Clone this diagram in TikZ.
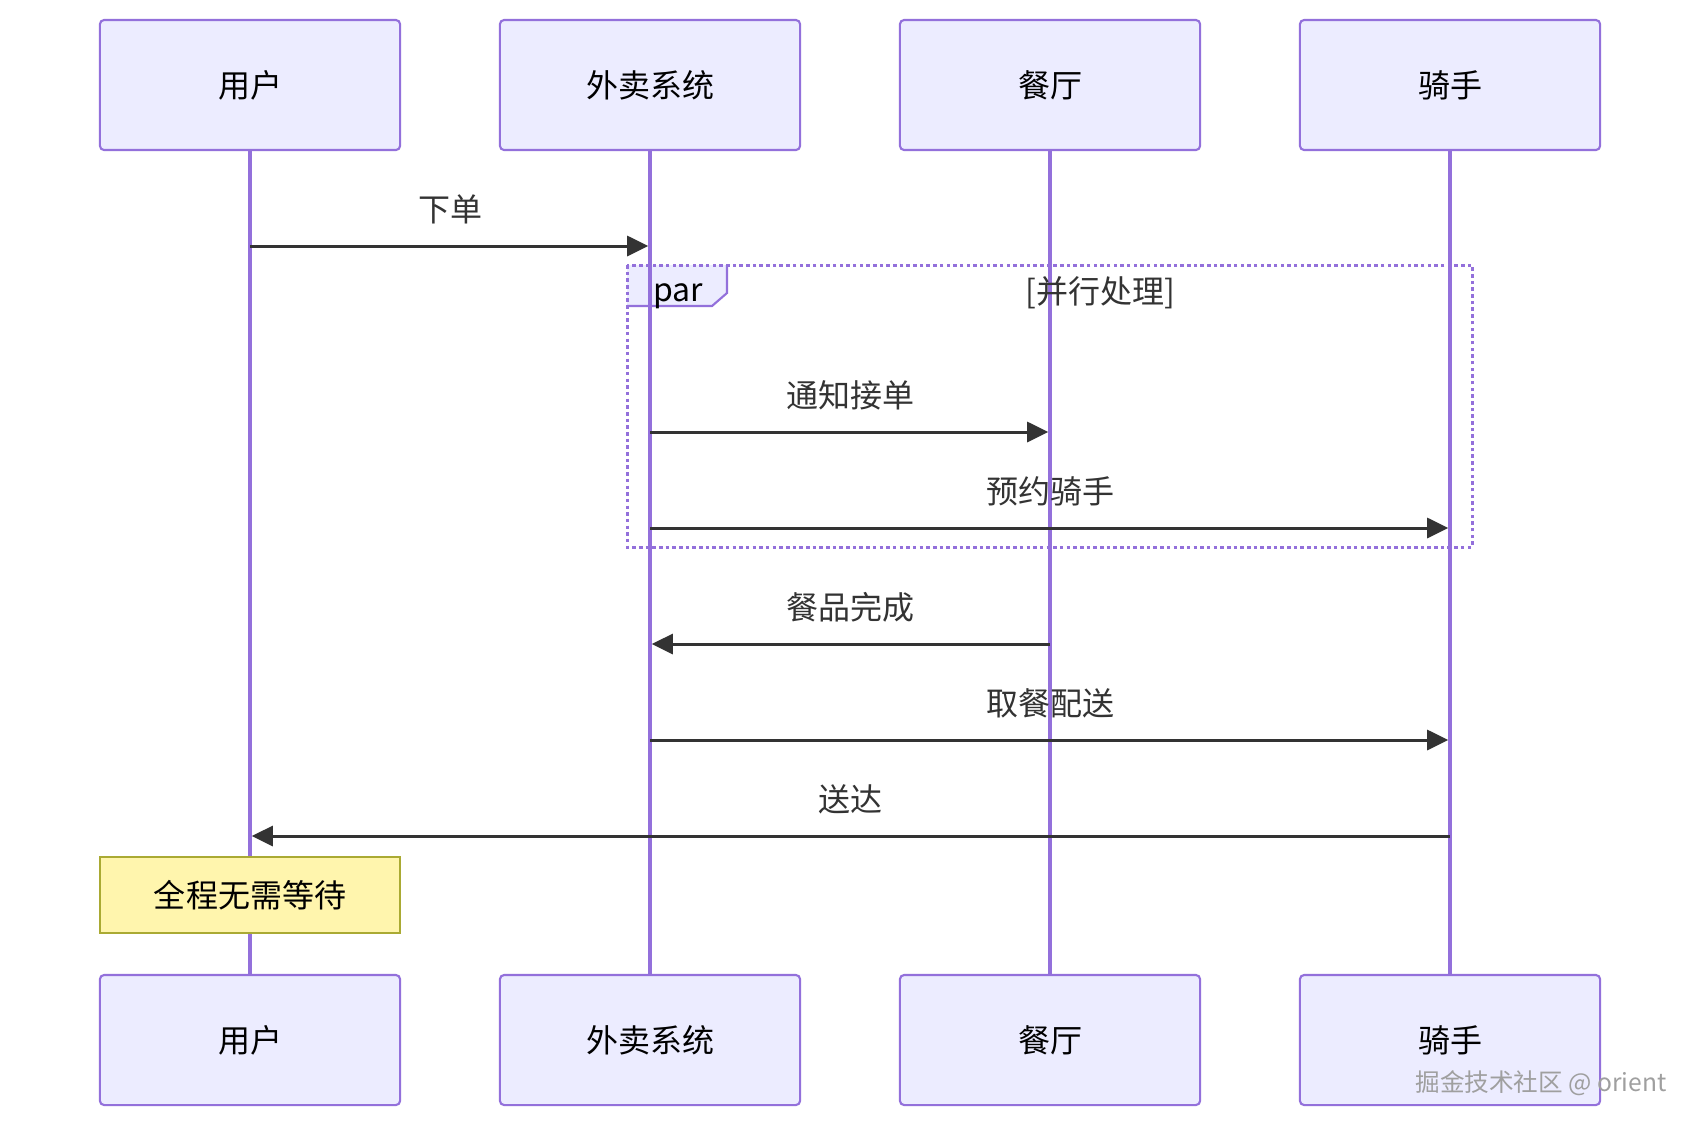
\documentclass[tikz,border=0pt]{standalone}
\usepackage{fontspec}
\setmainfont{Noto Sans CJK SC}
\usetikzlibrary{arrows.meta}
\definecolor{actorfill}{HTML}{ECECFF}
\definecolor{actorline}{HTML}{9370DB}
\definecolor{msgline}{HTML}{333333}
\definecolor{notefill}{HTML}{FFF5AD}
\definecolor{noteline}{HTML}{AAAA33}
\tikzset{
	actor/.style={draw=actorline,fill=actorfill,line width=0.6pt,rounded corners=1.2pt,minimum width=3cm,minimum height=1.3cm,inner sep=0pt,font=\fontsize{9.1}{11}\selectfont},
	lifeline/.style={actorline,line width=1.1pt},
	msg/.style={msgline,line width=0.85pt,shorten >=0.5pt,-{Triangle[length=6pt,width=5.7pt]}},
	msglabel/.style={text=msgline,font=\fontsize{9.1}{11}\selectfont,inner sep=0pt},
	notebox/.style={draw=noteline,fill=notefill,line width=0.6pt,minimum width=3cm,minimum height=0.76cm,inner sep=0pt,font=\fontsize{9.1}{11}\selectfont}
}
\begin{document}
\begin{tikzpicture}[x=0.01cm,y=-0.01cm]
	\useasboundingbox[fill=white] (0,0) rectangle (1700,1126);
		% actors, top and bottom
		\foreach \who/\txt/\x in {usr/用户/250,sys/外卖系统/650,rst/餐厅/1050,rdr/骑手/1450}{
			\coordinate (\who-x) at (\x,0);
			\node[actor] (\who-head) at (\x,85) {\txt};
			\node[actor] (\who-foot) at (\x,1040) {\txt};
		}
		% par label tab
		\fill[actorfill] (627,265) -- (727,265) -- (727,293) -- (712,306) -- (627,306) -- cycle;
		\draw[actorline,line width=0.6pt] (727,265) -- (727,293) -- (712,306) -- (627,306);
		% lifelines
		\foreach \who in {usr,sys,rst,rdr}{\draw[lifeline] (\who-head.south) -- (\who-foot.north);}
		% par frame
		\coordinate (ParNW) at (627,265);
		\coordinate (ParSE) at (1472,547);
		\draw[actorline,line width=0.85pt,dash pattern=on 1pt off 0.9pt] (ParNW) rectangle (ParSE);
		\node[msglabel,text=black] (par-tag) at (678,296) {par};
		\node[msglabel] (par-cond) at (1100,293) {[并行处理]};
		% messages
		\foreach \src/\dst/\y/\txt [count=\i] in {usr/sys/246/下单,sys/rst/432/通知接单,sys/rdr/528/预约骑手,rst/sys/644/餐品完成,sys/rdr/740/取餐配送,rdr/usr/836/送达}{
			\coordinate (m\i-a) at (\src-x |- 0,\y);
			\coordinate (m\i-b) at (\dst-x |- 0,\y);
			\draw[msg] (m\i-a) -- node[msglabel,midway,yshift=0.37cm] (m\i-txt) {\txt} (m\i-b);
		}
		% note
		\node[notebox] (wait) at (250,895) {全程无需等待};
		\node[text=gray!75,font=\fontsize{7}{8}\selectfont,inner sep=0pt] (mark) at (1541,1083) {掘金技术社区 @ orient};
	\end{tikzpicture}
\end{document}
